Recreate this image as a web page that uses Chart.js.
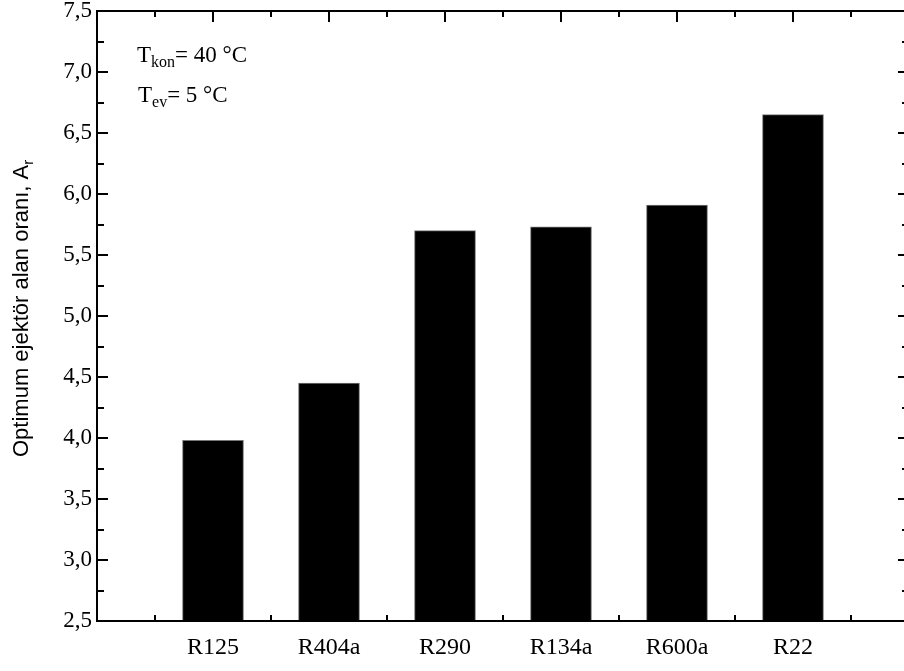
<!DOCTYPE html>
<html>
<head>
<meta charset="utf-8">
<script src="https://cdn.jsdelivr.net/npm/chart.js@4"></script>
<style>
  html, body { margin: 0; padding: 0; background: #fff; overflow: hidden; }
  canvas { display: block; }
</style>
</head>
<body>
<canvas id="c" width="904" height="671"></canvas>
<script>
// ---- data ----
const categories = ['R125', 'R404a', 'R290', 'R134a', 'R600a', 'R22'];
const values = [3.98, 4.45, 5.70, 5.73, 5.91, 6.65];
const yTickValues = [2.5, 3.0, 3.5, 4.0, 4.5, 5.0, 5.5, 6.0, 6.5, 7.0, 7.5];
const yTitle = 'Optimum ejektör alan oranı, A';
const yTitleSub = 'r';
const noteLines = [
  { main: 'T', sub: 'kon', rest: '= 40 °C' },
  { main: 'T', sub: 'ev', rest: '= 5 °C' }
];
// the frame of the original plot ends at x = 7, slightly beyond the visible image edge
const xFrameMax = 7;
const xVisibleMax = 6.957;

const serif = '"Liberation Serif", "Times New Roman", serif';
const sans = '"Liberation Sans", Arial, sans-serif';

const framePlugin = {
  id: 'frame',
  afterDraw(chart) {
    const ctx = chart.ctx;
    const xs = chart.scales.x, ys = chart.scales.y;
    const a = chart.chartArea;
    const L = a.left, T = a.top, B = a.bottom;
    const R = xs.getPixelForValue(xFrameMax);
    ctx.save();
    ctx.strokeStyle = '#000';
    ctx.lineWidth = 2;
    ctx.strokeRect(L, T, R - L, B - T);
    ctx.beginPath();
    // y ticks (left and right, inward)
    for (let v = ys.min; v <= ys.max + 1e-9; v += 0.25) {
      const y = Math.round(ys.getPixelForValue(v));
      const major = Math.abs(v * 2 - Math.round(v * 2)) < 1e-6;
      const len = major ? 11 : 7;
      ctx.moveTo(L, y); ctx.lineTo(L + len, y);
      ctx.moveTo(R, y); ctx.lineTo(R - len, y);
    }
    // x ticks (top and bottom, inward)
    for (let i = 0; i < categories.length; i++) {
      const xm = Math.round(xs.getPixelForValue(i + 1));
      ctx.moveTo(xm, T); ctx.lineTo(xm, T + 11);
      ctx.moveTo(xm, B); ctx.lineTo(xm, B - 11);
    }
    for (let i = 0; i <= categories.length; i++) {
      const xn = Math.round(xs.getPixelForValue(i + 0.5));
      ctx.moveTo(xn, T); ctx.lineTo(xn, T + 6);
      ctx.moveTo(xn, B); ctx.lineTo(xn, B - 6);
    }
    ctx.stroke();

    // annotation
    ctx.fillStyle = '#000';
    ctx.textBaseline = 'alphabetic';
    ctx.textAlign = 'left';
    const notePos = [[137, 62], [138, 102]];
    noteLines.forEach((ln, k) => {
      let [x, y] = notePos[k];
      ctx.font = '23px ' + serif;
      ctx.fillText(ln.main, x, y);
      x += ctx.measureText(ln.main).width;
      ctx.font = '16px ' + serif;
      ctx.fillText(ln.sub, x, y + 4.5);
      x += ctx.measureText(ln.sub).width;
      ctx.font = '23px ' + serif;
      ctx.fillText(ln.rest, x, y);
    });

    // y axis title (rotated, with subscript)
    ctx.save();
    ctx.translate(28, 457);
    ctx.rotate(-Math.PI / 2);
    ctx.font = '22px ' + sans;
    ctx.fillText(yTitle, 0, 0);
    const w = ctx.measureText(yTitle).width;
    ctx.font = '15px ' + sans;
    ctx.fillText(yTitleSub, w, 5);
    ctx.restore();
    ctx.restore();
  }
};

new Chart(document.getElementById('c'), {
  type: 'bar',
  data: {
    datasets: [{
      data: values.map((v, i) => ({ x: i + 1, y: v })),
      backgroundColor: '#000',
      borderColor: '#777',
      borderWidth: 1,
      borderSkipped: 'bottom',
      barThickness: 61
    }]
  },
  plugins: [framePlugin],
  options: {
    responsive: false,
    animation: false,
    devicePixelRatio: 1,
    layout: { padding: { top: 11, right: 0, bottom: 0, left: 0 } },
    plugins: { legend: { display: false }, tooltip: { enabled: false } },
    scales: {
      x: {
        type: 'linear',
        offset: false,
        min: 0, max: xVisibleMax,
        grid: { display: false, drawTicks: false, offset: false },
        border: { display: false },
        afterBuildTicks(s) { s.ticks = categories.map((c, i) => ({ value: i + 1 })); },
        ticks: {
          autoSkip: false,
          maxRotation: 0,
          padding: 12,
          color: '#000',
          font: { family: serif, size: 24 },
          callback: (v) => (Number.isInteger(v) && v >= 1 && v <= categories.length) ? categories[v - 1] : ''
        },
        afterFit(s) { s.height = 50; s.paddingLeft = 0; s.paddingRight = 0; }
      },
      y: {
        min: 2.5, max: 7.5,
        afterBuildTicks(s) { s.ticks = yTickValues.map(v => ({ value: v })); },
        grid: { display: false, drawTicks: false },
        border: { display: false },
        ticks: {
          padding: 5,
          color: '#000',
          font: { family: serif, size: 23 },
          callback: (v) => v.toFixed(1).replace('.', ',')
        },
        afterFit(s) { s.width = 97; s.paddingTop = 0; s.paddingBottom = 0; }
      }
    }
  }
});
</script>
</body>
</html>
